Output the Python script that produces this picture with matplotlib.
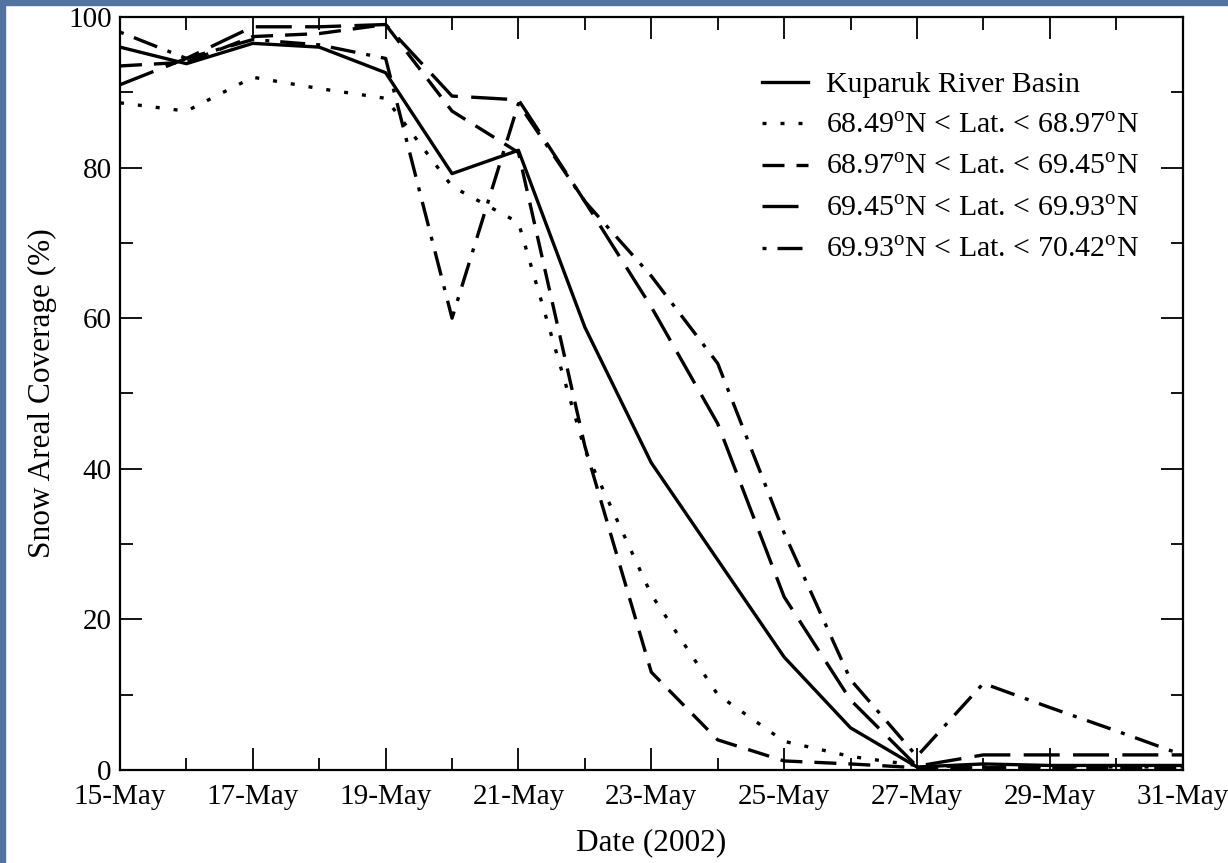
import pandas as pd
import matplotlib
matplotlib.use("Agg")
import matplotlib.pyplot as plt
import matplotlib.dates as mdates
from matplotlib.patches import Rectangle

plt.rcParams['font.family'] = ['Liberation Serif', 'DejaVu Serif']
plt.rcParams['mathtext.fontset'] = 'custom'
plt.rcParams['mathtext.rm'] = 'Liberation Serif'

# daily values, 15-May .. 31-May 2002
dates = pd.date_range("2002-05-15", "2002-05-31", freq="D")

kuparuk = [96, 93.8, 96.5, 96, 92.6, 79.2, 82.3, 58.8, 40.8, 27.9, 15, 5.6, 0.4, 0.8, 0.6, 0.6, 0.6]
lat_6849 = [88.6, 87.5, 92, 90.5, 89.2, 77.5, 72.7, 42.5, 23.3, 10, 3.8, 1.8, 0.6, 0.4, 0.4, 0.4, 0.4]
lat_6897 = [93.5, 94, 97.4, 97.8, 99, 87.5, 82, 43, 13, 4, 1.2, 0.8, 0.3, 0.3, 0.3, 0.3, 0.3]
lat_6945 = [91, 94.5, 98.7, 98.7, 99, 89.5, 89, 75.5, 61.5, 46, 23, 9.3, 0.5, 2, 2, 2, 2]
lat_6993 = [98, 94.5, 97, 96.3, 94.5, 60, 88.5, 75.5, 65.6, 54, 31.5, 12, 1.8, 11.5, 8.3, 5.2, 2]

labels = ["Kuparuk River Basin",
          r"68.49$^{\mathrm{o}}$N < Lat. < 68.97$^{\mathrm{o}}$N",
          r"68.97$^{\mathrm{o}}$N < Lat. < 69.45$^{\mathrm{o}}$N",
          r"69.45$^{\mathrm{o}}$N < Lat. < 69.93$^{\mathrm{o}}$N",
          r"69.93$^{\mathrm{o}}$N < Lat. < 70.42$^{\mathrm{o}}$N"]

fig = plt.figure(figsize=(12.28, 8.63), dpi=100)
ax = fig.add_axes([0.0977, 0.1078, 0.8653, 0.8725])

lw = 2.4
ax.plot(dates, kuparuk, color='black', lw=lw, label=labels[0])
ax.plot(dates, lat_6849, color='black', lw=lw, linestyle=(0, (1.2, 4.2)), label=labels[1])
ax.plot(dates, lat_6897, color='black', lw=lw, linestyle=(0, (6.6, 3.6)), label=labels[2])
ax.plot(dates, lat_6945, color='black', lw=lw, linestyle=(0, (10.8, 4.0)), label=labels[3])
ax.plot(dates, lat_6993, color='black', lw=lw, linestyle=(10.8, (7.5, 3.3, 1.2, 3.3)), label=labels[4])

ax.set_xlim(dates[0], dates[-1])
ax.set_ylim(0, 100)
ax.xaxis.set_major_locator(mdates.DayLocator(interval=2))
ax.xaxis.set_minor_locator(mdates.DayLocator())
ax.xaxis.set_major_formatter(mdates.DateFormatter('%d-%b'))
ax.set_yticks([0, 20, 40, 60, 80, 100])
ax.set_yticks([10, 30, 50, 70, 90], minor=True)

ax.tick_params(which='both', direction='in', top=True, right=True, width=1.3)
ax.tick_params(which='major', length=16, labelsize=21)
ax.tick_params(axis='x', which='major', pad=10)
ax.tick_params(axis='y', which='major', pad=6)
ax.tick_params(which='minor', length=9)
for s in ax.spines.values():
    s.set_linewidth(1.6)

ax.set_xlabel("Date (2002)", fontsize=22.5, labelpad=13)
ax.set_ylabel("Snow Areal Coverage (%)", fontsize=22.5, labelpad=8)

ax.legend(loc='upper left', bbox_to_anchor=(0.604, 0.928), frameon=False,
          fontsize=21.5, handlelength=1.55, handletextpad=0.6,
          labelspacing=0.49, borderaxespad=0, borderpad=0)

# blue strips along the top and left edge
fig.patches.append(Rectangle((0, 1 - 5 / 863), 1, 5 / 863, transform=fig.transFigure,
                             color='#52739f', zorder=10))
fig.patches.append(Rectangle((0, 0), 5 / 1228, 1, transform=fig.transFigure,
                             color='#52739f', zorder=10))

fig.savefig("out.png", dpi=100)
